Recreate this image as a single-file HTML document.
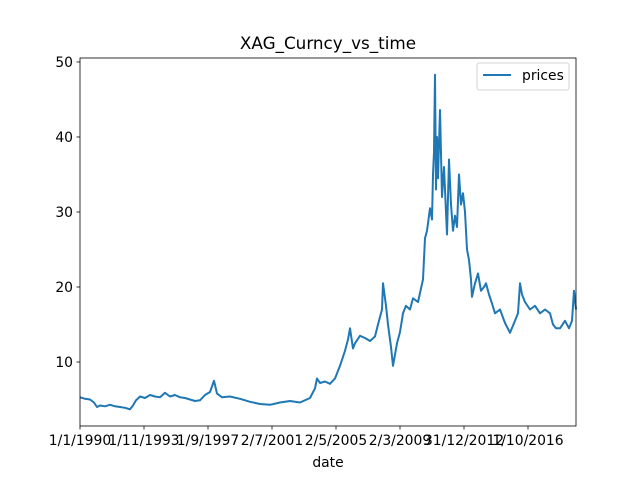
<!DOCTYPE html>
<html><head><meta charset="utf-8"><style>
body{margin:0;background:#fff}
svg text{font-family:"DejaVu Sans","Liberation Sans",sans-serif;fill:#000}
</style></head><body>
<svg width="640" height="480" viewBox="0 0 640 480">
<text x="328" y="49" font-size="16.8" text-anchor="middle">XAG_Curncy_vs_time</text>
<g id="series"></g>
<rect x="80" y="58" width="496" height="368" fill="none" stroke="#000" stroke-width="0.8"/>
<g id="xaxis"></g>
<g id="yaxis"></g>
<text x="328" y="467" font-size="13.9" text-anchor="middle">date</text>
<g>
<rect x="477" y="63" width="92" height="27" rx="2" fill="#fff" stroke="#ccc" stroke-width="1" opacity="0.8"/>
<line x1="483" y1="75" x2="511" y2="75" stroke="#1f77b4" stroke-width="2"/>
<text x="522" y="80" font-size="13.9">prices</text>
</g>
</svg>
<script>
const idx=[0,78,156,219,266,313,391,469,547,625,703,781,828,875,938,1016,1094,1172,1250,1328,1406,1484,1563,1641,1719,1797,1875,1953,2031,2094,2141,2219,2344,2500,2656,2813,2969,3125,3281,3438,3594,3672,3703,3750,3828,3906,3984,4063,4141,4188,4219,4266,4297,4375,4453,4531,4609,4656,4719,4734,4781,4813,4859,4891,4953,5000,5047,5094,5156,5203,5281,5359,5391,5422,5469,5500,5516,5531,5547,5563,5578,5594,5625,5656,5688,5719,5734,5766,5797,5828,5859,5891,5922,5953,5984,6016,6047,6078,6109,6125,6172,6219,6266,6313,6344,6391,6438,6484,6563,6641,6719,6797,6844,6875,6906,6953,7031,7109,7188,7266,7344,7391,7438,7500,7578,7641,7688,7719,7750];
const prices=[5.3,5.1,5.0,4.6,4.0,4.2,4.1,4.3,4.1,4.0,3.9,3.7,4.2,4.9,5.4,5.2,5.6,5.4,5.3,5.9,5.4,5.6,5.3,5.2,5.0,4.8,4.9,5.6,6.0,7.5,5.8,5.3,5.4,5.1,4.7,4.4,4.3,4.6,4.8,4.6,5.2,6.5,7.8,7.2,7.4,7.1,7.8,9.5,11.5,13.0,14.5,11.8,12.5,13.5,13.2,12.8,13.4,15.0,17.0,20.5,17.5,15.0,12.0,9.5,12.5,14.0,16.5,17.5,17.0,18.5,18.0,21.0,26.5,27.5,30.5,29.0,35.0,38.0,48.3,33.0,40.0,34.5,43.6,32.0,36.0,30.0,27.0,37.0,31.0,27.5,29.5,28.0,35.0,31.0,32.5,30.0,25.0,23.6,21.0,18.7,20.5,21.8,19.5,20.0,20.5,19.0,17.8,16.5,17.0,15.2,13.9,15.5,16.5,20.5,19.0,18.0,17.0,17.5,16.5,17.0,16.5,15.0,14.5,14.5,15.5,14.5,15.5,19.5,17.0];
const xTicks=[0,1000,2000,3000,4000,5000,6000,7000];
const xLabels=["1/1/1990","1/11/1993","1/9/1997","2/7/2001","2/5/2005","2/3/2009","31/12/2012","1/10/2016"];
const yTicks=[10,20,30,40,50];
const NS="http://www.w3.org/2000/svg";
const X0=80,X1=576,Y0=426,Y1=58,xmax=7750,ymin=1.47,ymax=50.53;
const sx=v=>X0+v/xmax*(X1-X0);
const sy=v=>Y0-(v-ymin)/(ymax-ymin)*(Y0-Y1);
const mk=(t,a,p)=>{const e=document.createElementNS(NS,t);for(const k in a)e.setAttribute(k,a[k]);p.appendChild(e);return e;};
const path=mk("path",{d:idx.map((v,i)=>(i?"L":"M")+sx(v).toFixed(1)+","+sy(prices[i]).toFixed(1)).join(""),fill:"none",stroke:"#1f77b4","stroke-width":2,"stroke-linejoin":"round"},document.getElementById("series"));


const xa=document.getElementById("xaxis");
xTicks.forEach((t,i)=>{
 const l=mk("line",{x1:sx(t),x2:sx(t),y1:Y0,y2:Y0+3.5,stroke:"#000","stroke-width":0.8},xa);
 
 
 const tx=mk("text",{x:sx(t),y:Y0+19,"font-size":13.9,"text-anchor":"middle"},xa);
 tx.textContent=xLabels[i];
 
 
});
const ya=document.getElementById("yaxis");
yTicks.forEach(t=>{
 const l=mk("line",{x1:X0-3.5,x2:X0,y1:sy(t),y2:sy(t),stroke:"#000","stroke-width":0.8},ya);
 
 
 const tx=mk("text",{x:X0-7,y:sy(t)+5,"font-size":13.9,"text-anchor":"end"},ya);
 tx.textContent=t;
 
 
});
</script>
</body></html>
